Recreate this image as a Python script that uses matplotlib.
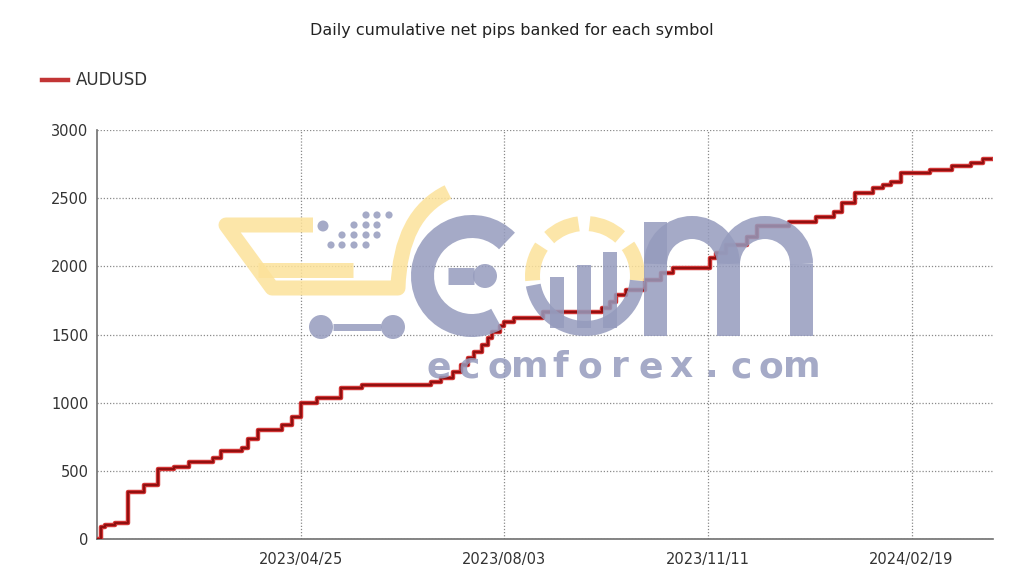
import pandas as pd
import matplotlib.pyplot as plt
from matplotlib.patches import Arc, Circle, Rectangle, PathPatch
from matplotlib.path import Path

# step points: date of each change and cumulative pips after it
dates = ["2023-01-15", "2023-01-17", "2023-01-19", "2023-01-24", "2023-01-30",
         "2023-02-07", "2023-02-14", "2023-02-22", "2023-03-01", "2023-03-13",
         "2023-03-17", "2023-03-27", "2023-03-30", "2023-04-04", "2023-04-16",
         "2023-04-21", "2023-04-25", "2023-05-03", "2023-05-15", "2023-05-25",
         "2023-06-28", "2023-07-03", "2023-07-09", "2023-07-13", "2023-07-16",
         "2023-07-19", "2023-07-23", "2023-07-26", "2023-07-28", "2023-08-01",
         "2023-08-03", "2023-08-08", "2023-08-22", "2023-09-20", "2023-09-24",
         "2023-09-27", "2023-10-02", "2023-10-11", "2023-10-19", "2023-10-25",
         "2023-11-12", "2023-11-15", "2023-11-20", "2023-11-30", "2023-12-05",
         "2023-12-21", "2024-01-03", "2024-01-12", "2024-01-16", "2024-01-22",
         "2024-01-31", "2024-02-05", "2024-02-09", "2024-02-14", "2024-02-28",
         "2024-03-10", "2024-03-19", "2024-03-25", "2024-03-29"]
pips = [0, 88, 103, 117, 345,
        395, 513, 528, 565, 594,
        645, 667, 733, 799, 836,
        894, 997, 1034, 1107, 1129,
        1151, 1180, 1224, 1276, 1327,
        1371, 1422, 1474, 1518, 1560,
        1591, 1620, 1664, 1694, 1738,
        1789, 1826, 1899, 1950, 1987,
        2060, 2097, 2155, 2214, 2295,
        2324, 2361, 2397, 2463, 2537,
        2573, 2595, 2617, 2683, 2705,
        2735, 2757, 2786, 2786]

tick_dates = ["2023-04-25", "2023-08-03", "2023-11-11", "2024-02-19"]
tick_labels = ["2023/04/25", "2023/08/03", "2023/11/11", "2024/02/19"]

df = pd.DataFrame({"date": pd.to_datetime(dates), "pips": pips})

fig = plt.figure(figsize=(10.24, 5.69), dpi=100)
ax = fig.add_axes([0.0947, 0.0527, 0.875, 0.7188])

ax.plot(df["date"], df["pips"], drawstyle="steps-post", color="#d03434", lw=3.2,
        zorder=3)
ax.plot(df["date"], df["pips"], drawstyle="steps-post", color="#900f0f", lw=1.4,
        zorder=4, label="AUDUSD")

ax.set_xlim(pd.Timestamp("2023-01-15"), pd.Timestamp("2024-03-30"))
ax.set_ylim(0, 3000)
ax.set_yticks(range(0, 3001, 500))
ax.set_xticks(pd.to_datetime(tick_dates))
ax.set_xticklabels(tick_labels)

ax.grid(True, color="#8a8a8a", linestyle=(0, (1, 1.5)), lw=0.9)
ax.set_axisbelow(True)
for s in ["top", "right"]:
    ax.spines[s].set_visible(False)
for s in ["left", "bottom"]:
    ax.spines[s].set_color("#6f6f6f")
    ax.spines[s].set_linewidth(1.2)
ax.tick_params(length=0, labelsize=10.5, labelcolor="#333333", pad=6)
ax.tick_params(axis="x", pad=9)

fig.text(0.5, 0.947, "Daily cumulative net pips banked for each symbol",
         ha="center", va="center", fontsize=11.5, color="#222222")

# legend drawn by hand at the top left
fig.lines.append(plt.Line2D([42 / 1024, 68 / 1024], [1 - 80 / 569] * 2,
                            color="#c23535", lw=3.2, transform=fig.transFigure))
fig.text(76 / 1024, 1 - 80 / 569, "AUDUSD", ha="left", va="center",
         fontsize=12, color="#333333")

# ---- watermark logo, drawn in pixel units on an overlay (y measured up) ----
wm = fig.add_axes([0, 0, 1, 1], zorder=10)
wm.set_xlim(0, 1024)
wm.set_ylim(0, 569)
wm.axis("off")
wm.patch.set_alpha(0)
H = 569
grey = "#959bbd"
yellow = "#fce29a"
a = 0.85
px = 0.72  # points per pixel

# yellow cart body
cart = Path([(313, H - 225), (226, H - 225), (272, H - 288), (398, H - 288),
             (400, H - 215), (448, H - 192)],
            [Path.MOVETO, Path.LINETO, Path.LINETO, Path.LINETO, Path.CURVE3, Path.CURVE3])
wm.add_patch(PathPatch(cart, fill=False, ec=yellow, lw=15 * px, alpha=a,
                       capstyle="butt", joinstyle="round"))
wm.plot([258, 353], [H - 270, H - 270], color=yellow, lw=15 * px, alpha=a,
        solid_capstyle="butt")

# wheels and dots
for cx in (321, 393):
    wm.add_patch(Circle((cx, H - 327), 12, color=grey, alpha=a, lw=0))
wm.plot([333, 381], [H - 327, H - 327], color=grey, lw=7 * px, alpha=a,
        solid_capstyle="butt")
wm.add_patch(Circle((323, H - 226), 5.5, color=grey, alpha=a, lw=0))
dots = [(366, 215), (377, 215), (389, 215), (354, 225), (366, 225), (377, 225),
        (342, 235), (354, 235), (366, 235), (377, 235),
        (331, 245), (342, 245), (354, 245), (366, 245)]
for dx, dy in dots:
    wm.add_patch(Circle((dx, H - dy), 3.6, color=grey, alpha=a, lw=0))

# big "e"
wm.add_patch(Arc((472, H - 276), 99, 99, theta1=45, theta2=300, ec=grey,
                 lw=23 * px, alpha=a))
wm.plot([448, 474], [H - 276, H - 276], color=grey, lw=17 * px, alpha=a,
        solid_capstyle="butt")
wm.add_patch(Circle((485, H - 276), 12, color=grey, alpha=a, lw=0))

# "o" ring: yellow dashes on top, grey bowl and bars below
for t1, t2 in [(-5, 35), (48, 85), (97, 133), (146, 185)]:
    wm.add_patch(Arc((585, H - 276), 105, 105, theta1=t1, theta2=t2, ec=yellow,
                     lw=15 * px, alpha=a))
wm.add_patch(Arc((585, H - 276), 105, 105, theta1=190, theta2=355, ec=grey,
                 lw=15 * px, alpha=a))
for bx, top in [(550, 277), (577, 265), (603, 252)]:
    wm.add_patch(Rectangle((bx, H - 328), 14, 328 - top, color=grey, alpha=a, lw=0))

# big "m"
wm.add_patch(Rectangle((644, H - 336), 23, 336 - 222, color=grey, alpha=a, lw=0))
for cx in (692, 765):
    wm.add_patch(Arc((cx, H - 264), 73, 73, theta1=0, theta2=180, ec=grey,
                     lw=23 * px, alpha=a))
    wm.add_patch(Rectangle((cx + 25, H - 336), 23, 336 - 264, color=grey, alpha=a,
                           lw=0))

# spaced site name
for i, ch in enumerate("ecomforex.com"):
    wm.text(439 + i * 30.2, H - 367, ch, ha="center", va="center", fontsize=26,
            fontweight="bold", color=grey, alpha=a, family="DejaVu Sans Condensed")

fig.savefig("out.png", dpi=100)
